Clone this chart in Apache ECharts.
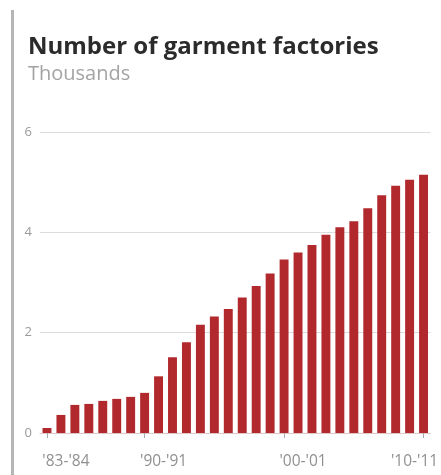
<!DOCTYPE html>
<html><head><meta charset="utf-8">
<script src="https://cdn.jsdelivr.net/npm/echarts@6/dist/echarts.min.js"></script>
<style>html,body{margin:0;padding:0;background:#fff}#c{width:441px;height:475px}</style>
</head><body><div id="c"></div>
<script>
const categories = ["'83-'84","'84-'85","'85-'86","'86-'87","'87-'88","'88-'89","'89-'90","'90-'91","'91-'92","'92-'93","'93-'94","'94-'95","'95-'96","'96-'97","'97-'98","'98-'99","'99-'00","'00-'01","'01-'02","'02-'03","'03-'04","'04-'05","'05-'06","'06-'07","'07-'08","'08-'09","'09-'10","'10-'11"];
const factories = [0.1,0.36,0.56,0.58,0.64,0.68,0.72,0.8,1.13,1.51,1.81,2.16,2.32,2.47,2.70,2.93,3.18,3.46,3.60,3.75,3.95,4.10,4.22,4.48,4.74,4.93,5.05,5.15];
const labelled = ["'83-'84","'90-'91","'00-'01","'10-'11"];
const yTicks = [0,2,4,6];

const chart = echarts.init(document.getElementById('c'), null, {renderer:'canvas'});
const shown = (i) => labelled.indexOf(categories[i]) >= 0;
const lastCat = categories[categories.length-1];
chart.setOption({
  animation:false,
  title:{
    text:'Number of garment factories',
    subtext:'Thousands',
    left:23, top:30, itemGap:5,
    textStyle:{fontFamily:'Open Sans', fontWeight:'bold', fontSize:24, color:'#2b2b2b'},
    subtextStyle:{fontFamily:'Open Sans', fontSize:20, color:'#a3a3a3'}
  },
  graphic:[{type:'rect', shape:{x:11, y:10, width:3, height:465}, style:{fill:'#b5b5b5'}}],
  grid:{left:40, right:1, top:132, bottom:42},
  xAxis:{
    type:'category', data:categories,
    axisLine:{show:true, lineStyle:{color:'#dcc8c8', width:1}},
    axisTick:{show:true, alignWithLabel:true, length:5, lineStyle:{color:'#aaa'}, interval:(i)=>shown(i)},
    axisLabel:{interval:(i)=>shown(i), margin:21, align:'center',
      formatter:(v)=> v===lastCat ? '{e|'+v+'}' : '{n|'+v+'}',
      rich:{
        n:{fontFamily:'Open Sans', fontSize:15.5, color:'#909090', padding:[0,0,0,38]},
        e:{fontFamily:'Open Sans', fontSize:15.5, color:'#909090', padding:[0,18,0,0]}
      }
    }
  },
  yAxis:{
    type:'value', min:0, max:6, interval:2,
    axisLine:{show:false}, axisTick:{show:false},
    axisLabel:{margin:8, fontFamily:'Open Sans', fontSize:13, color:'#9a9a9a',
      formatter:(v)=> yTicks.indexOf(v)>=0 ? String(v) : ''},
    splitLine:{lineStyle:{color:'#dcdcdc', width:1}}
  },
  series:[{type:'bar', data:factories, barCategoryGap:'36%', itemStyle:{color:'#b1292d'}}]
});
</script></body></html>
